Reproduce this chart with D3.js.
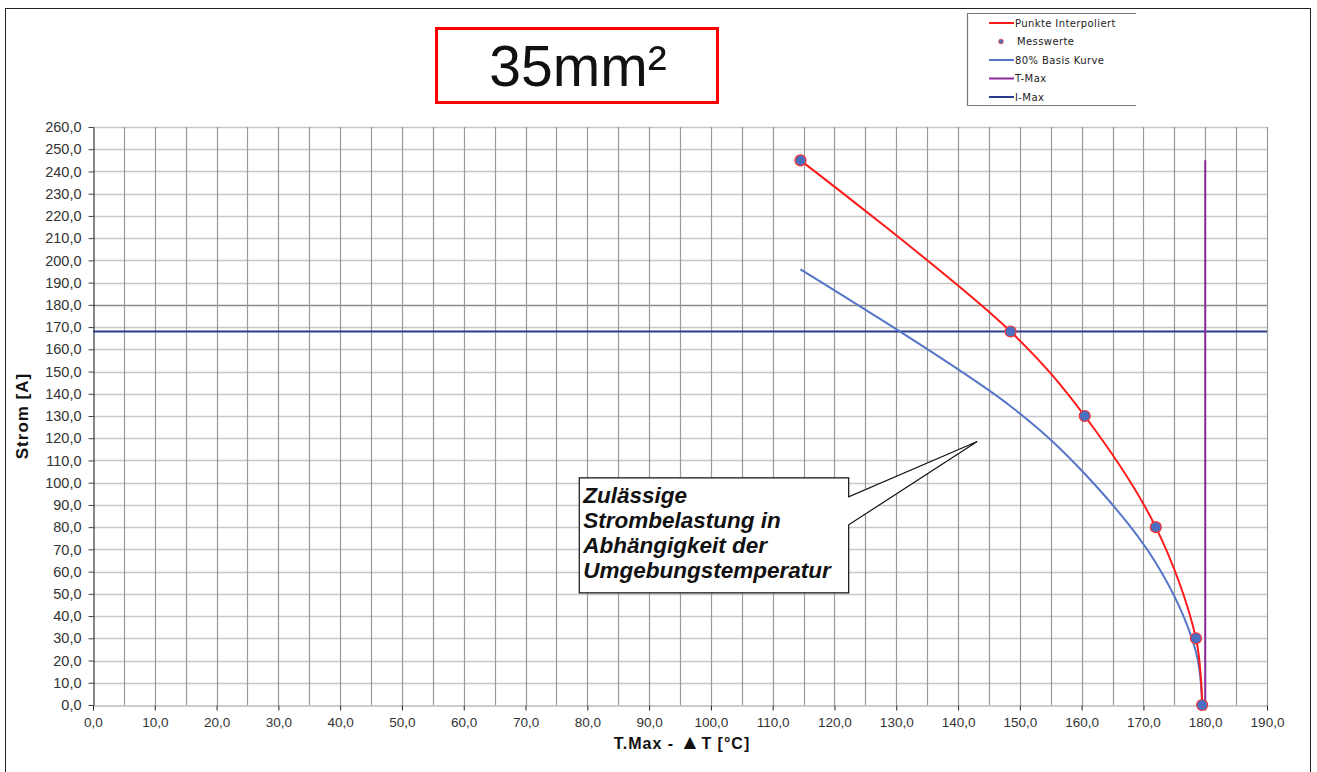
<!DOCTYPE html>
<html>
<head>
<meta charset="utf-8">
<script src="https://cdn.jsdelivr.net/npm/d3@7"></script>
<style>
  body { margin: 0; background: #fff; }
  svg { display: block; font-family: "Liberation Sans", Arial, sans-serif; }
</style>
</head>
<body>
<svg width="1317" height="772"></svg>
<script>
// measured values (Messwerte): temperature and current
var tempValues = [114.5, 148.5, 160.5, 172.0, 178.5, 179.5];
var stromValues = [245, 168, 130, 80, 30, 0];
// 80% basis curve
var basisValues = [196, 134.4, 104, 64, 24, 0];
var tMax = 180, tMaxTop = 245;
var iMax = 168;
var xTicks = d3.range(0, 191, 10);
var xGrid = d3.range(5, 191, 5);
var yTicks = d3.range(0, 261, 10);
var legendItems = ["Punkte Interpoliert", "Messwerte", "80% Basis Kurve", "T-Max", "I-Max"];
var calloutLines = ["Zulässige", "Strombelastung in", "Abhängigkeit der", "Umgebungstemperatur"];

var svg = d3.select("svg");
var margin = {top: 127, left: 93, right: 50, bottom: 67},
    width = +svg.attr("width"), height = +svg.attr("height");

var x = d3.scaleLinear().domain([0, 190]).range([margin.left, width - margin.right]);
var y = d3.scaleLinear().domain([0, 260]).range([height - margin.bottom, margin.top]);

var col = {red: "#ff1a1a", dot: "#4a6fc0", basis: "#5576c8", tmax: "#8b2a98", imax: "#2c3a8c"};
var fmt = function(d) { return d3.format(".1f")(d).replace(".", ","); };

// outer frame
svg.append("rect").attr("x", 5.5).attr("y", 8.5).attr("width", 1305).attr("height", 800)
  .attr("fill", "none").attr("stroke", "#222").attr("stroke-width", 1);

// title box
svg.append("rect").attr("x", 436.5).attr("y", 28.5).attr("width", 281).attr("height", 74)
  .attr("fill", "none").attr("stroke", "#f00").attr("stroke-width", 3);
svg.append("text").attr("x", 578).attr("y", 86).attr("text-anchor", "middle")
  .attr("font-size", 57).attr("fill", "#111").text("35mm²");

// grid
var g = svg.append("g");
g.selectAll(".hg").data(yTicks.slice(1)).enter().append("line")
  .attr("x1", x(0)).attr("x2", x(190))
  .attr("y1", function(d) { return Math.round(y(d)) + 0.5; })
  .attr("y2", function(d) { return Math.round(y(d)) + 0.5; })
  .attr("stroke", function(d) { return d === 180 ? "#8a8a8a" : "#c8c8c8"; }).attr("stroke-width", 1.3);
g.selectAll(".vg").data(xGrid).enter().append("line")
  .attr("y1", y(0)).attr("y2", y(260))
  .attr("x1", function(d) { return Math.round(x(d)) + 0.5; })
  .attr("x2", function(d) { return Math.round(x(d)) + 0.5; })
  .attr("stroke", "#9a9a9a").attr("stroke-width", 1.2);

// axes
var xAxis = svg.append("g").attr("transform", "translate(0," + (Math.round(y(0)) + 0.5) + ")")
  .call(d3.axisBottom(x).tickValues(xTicks).tickSize(5).tickSizeOuter(0).tickFormat(fmt));
xAxis.select(".domain").attr("stroke", "#9a9a9a");
xAxis.selectAll(".tick line").attr("stroke", "#222");
xAxis.selectAll("text").attr("font-size", 13.5).attr("fill", "#333").attr("y", 12)
  .attr("font-family", "Liberation Sans, Arial, sans-serif");

var yAxis = svg.append("g").attr("transform", "translate(" + (Math.round(x(0)) + 0.5) + ",0)")
  .call(d3.axisLeft(y).tickValues(yTicks).tickSize(5).tickSizeOuter(0).tickFormat(fmt));
yAxis.select(".domain").attr("stroke", "#111");
yAxis.selectAll(".tick line").attr("stroke", "#444");
yAxis.selectAll("text").attr("font-size", 14.5).attr("fill", "#333").attr("x", -12)
  .attr("font-family", "Liberation Sans, Arial, sans-serif");

var xTitle = svg.append("text").attr("x", 682).attr("y", 749).attr("text-anchor", "middle")
  .attr("font-size", 16).attr("font-weight", "bold").attr("letter-spacing", 1)
  .attr("fill", "#111");
xTitle.append("tspan").text("T.Max - ");
xTitle.append("tspan").attr("font-size", 21).text("▲");
xTitle.append("tspan").text("T [°C]");
svg.append("text").attr("transform", "translate(28," + 416 + ") rotate(-90)")
  .attr("text-anchor", "middle").attr("font-size", 17).attr("font-weight", "bold")
  .attr("letter-spacing", 1).attr("fill", "#111").text("Strom [A]");

// reference lines
svg.append("line").attr("x1", x(0)).attr("x2", x(190)).attr("y1", y(iMax)).attr("y2", y(iMax))
  .attr("stroke", col.imax).attr("stroke-width", 2);
svg.append("line").attr("x1", x(tMax)).attr("x2", x(tMax)).attr("y1", y(0)).attr("y2", y(tMaxTop))
  .attr("stroke", col.tmax).attr("stroke-width", 2);

// curves
var line = d3.line().x(function(d) { return x(d[0]); }).y(function(d) { return y(d[1]); })
  .curve(d3.curveCatmullRom.alpha(0.5));
var redData = tempValues.map(function(t, i) { return [t, stromValues[i]]; });
var blueData = tempValues.map(function(t, i) { return [t, basisValues[i]]; });

svg.append("path").datum(blueData).attr("d", line).attr("fill", "none")
  .attr("stroke", col.basis).attr("stroke-width", 2);
svg.append("path").datum(redData).attr("d", line).attr("fill", "none")
  .attr("stroke", col.red).attr("stroke-width", 2);

svg.selectAll(".pt").data(redData).enter().append("circle")
  .attr("cx", function(d) { return x(d[0]); }).attr("cy", function(d) { return y(d[1]); })
  .attr("r", 5.5).attr("fill", col.dot).attr("stroke", "#ff3030").attr("stroke-width", 1.2);

// callout annotation (tip and box in data units)
var tip = [143.1, 118.5];
var bx0 = x(78.7), bx1 = x(122.3), by0 = y(102.2), by1 = y(50.4);
var pa = by0 + 19, pb = by0 + 47;
var tx = x(tip[0]), ty = y(tip[1]);
svg.append("path")
  .attr("d", "M" + bx0 + "," + by0 + "H" + bx1 + "V" + pa + "L" + tx + "," + ty +
    "L" + bx1 + "," + pb + "V" + by1 + "H" + bx0 + "Z")
  .attr("fill", "#fff").attr("stroke", "#111").attr("stroke-width", 1.2);
svg.append("g").selectAll("text").data(calloutLines).enter().append("text")
  .attr("x", bx0 + 4).attr("y", function(d, i) { return by0 + 25 + i * 25; })
  .attr("font-size", 22.5).attr("font-weight", "bold").attr("font-style", "italic")
  .attr("fill", "#111").text(function(d) { return d; });

// legend
var lg = svg.append("g").attr("font-family", "DejaVu Sans, Verdana, sans-serif");
lg.append("path").attr("d", "M1136,13.5H967.5V105.5H1136").attr("fill", "none")
  .attr("stroke", "#777").attr("stroke-width", 1.2);
var legendColors = [col.red, col.dot, col.basis, col.tmax, col.imax];
var items = lg.selectAll(".li").data(legendItems).enter().append("g")
  .attr("transform", function(d, i) { return "translate(0," + (23 + i * 18.5) + ")"; });
items.each(function(d, i) {
  var it = d3.select(this);
  if (i === 1) {
    it.append("circle").attr("cx", 1001).attr("cy", 0).attr("r", 2.3)
      .attr("fill", col.dot).attr("stroke", "#e33").attr("stroke-width", 0.8);
  } else {
    it.append("line").attr("x1", 989).attr("x2", 1014).attr("y1", 0).attr("y2", 0)
      .attr("stroke", legendColors[i]).attr("stroke-width", 2);
  }
  it.append("text").attr("x", i === 1 ? 1017 : 1015).attr("y", 3.5).attr("font-size", 10)
    .attr("letter-spacing", 0.4).attr("fill", "#222").text(d);
});
</script>
</body>
</html>
